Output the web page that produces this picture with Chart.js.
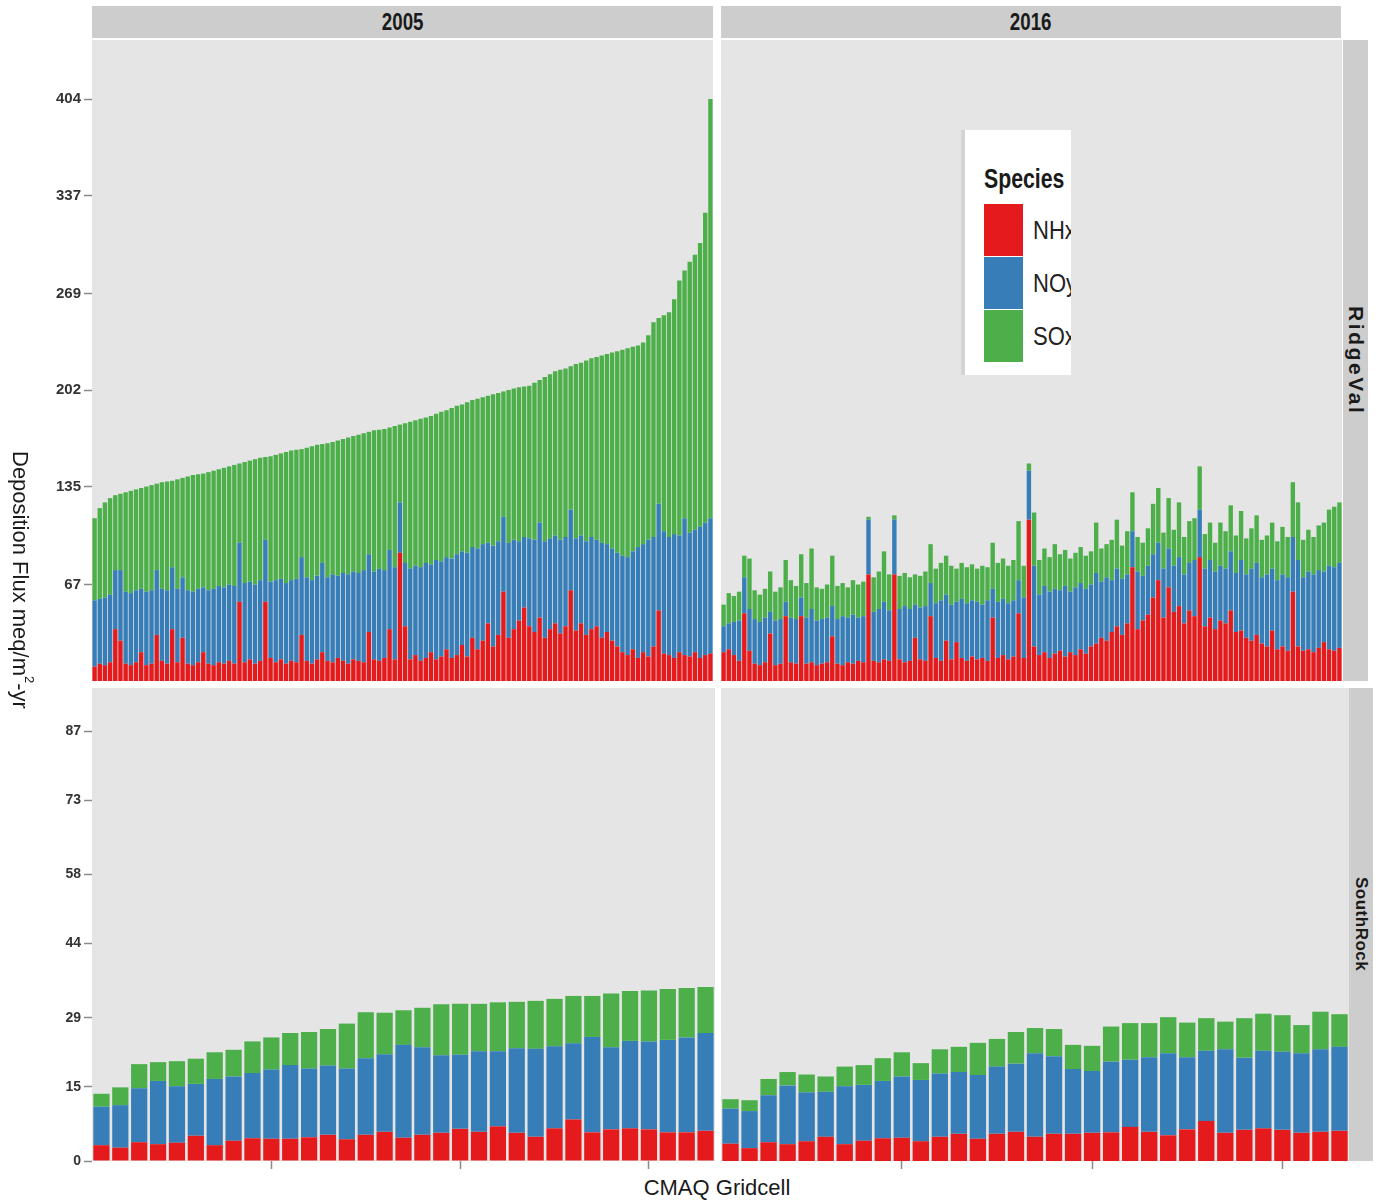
<!DOCTYPE html>
<html>
<head>
<meta charset="utf-8">
<script src="https://cdn.jsdelivr.net/npm/chart.js@4.4.1/dist/chart.umd.min.js"></script>
<style>
  body { margin: 0; background: #fff; width: 1379px; height: 1203px; position: relative; overflow: hidden;
         font-family: 'Liberation Sans', Arial, sans-serif; color: #1a1a1a; }
  canvas { position: absolute; }
  .strip { position: absolute; background: #cdcdcd; display: flex; align-items: center; justify-content: center; }
  .strip.top span { font-weight: bold; font-size: 24px; display: inline-block; transform: scaleX(0.78); }
  .vert { writing-mode: vertical-rl; white-space: nowrap; }
  .side span { font-weight: bold; }
  #ytitle { position: absolute; left: 7px; top: 380px; width: 30px; height: 400px; display: flex;
            align-items: center; justify-content: center; font-size: 22px; }
  #ytitle sup { font-size: 13px; }
  #xtitle { position: absolute; left: 567px; top: 1175px; width: 300px; text-align: center; font-size: 22px; }
  #legend { position: absolute; left: 961px; top: 130px; width: 106px; height: 245px; background: #fff;
            border-left: 4px solid #d4d4d4; overflow: hidden; }
  #legend .title { position: absolute; left: 19px; top: 33px; font-weight: bold; font-size: 28px;
                   transform: scaleX(0.76); transform-origin: left center; white-space: nowrap; }
  #legend .key { position: absolute; left: 19px; width: 39px; height: 52px; }
  #legend .lab { position: absolute; left: 68px; height: 52px; line-height: 52px; font-size: 25px;
                 white-space: nowrap; color: #222; transform: scaleX(0.88); transform-origin: left center; }
</style>
</head>
<body>
<canvas id="tl" width="713" height="641" style="left:0;top:40px"></canvas>
<canvas id="tr" width="621" height="641" style="left:721px;top:40px"></canvas>
<canvas id="bl" width="715" height="485" style="left:0;top:688px"></canvas>
<canvas id="br" width="628" height="485" style="left:721px;top:688px"></canvas>

<div class="strip top" style="left:92px;top:6px;width:621px;height:32px"><span>2005</span></div>
<div class="strip top" style="left:721px;top:6px;width:620px;height:32px"><span>2016</span></div>
<div class="strip side" style="left:1343px;top:40px;width:25px;height:641px">
  <span class="vert" style="font-size:21px;letter-spacing:2.6px">RidgeVal</span></div>
<div class="strip side" style="left:1349px;top:688px;width:24px;height:473px">
  <span class="vert" style="font-size:17px;letter-spacing:0.5px">SouthRock</span></div>

<div id="ytitle"><span class="vert">Deposition Flux meq/m<sup>2</sup>-yr</span></div>
<div id="xtitle">CMAQ Gridcell</div>

<div id="legend">
  <div class="title">Species</div>
  <div class="key" style="top:74px;background:#e41a1c"></div>
  <div class="key" style="top:127px;background:#377eb8"></div>
  <div class="key" style="top:180px;background:#4daf4a"></div>
  <div class="lab" style="top:74px">NHx</div>
  <div class="lab" style="top:127px">NOy</div>
  <div class="lab" style="top:180px">SOx</div>
</div>

<script>
// RidgeVal gridcells (same order in both years)
const nhxRidge2005 = [10,12,11,13,36,28,12,11,13,20, 11,12,32,14,12,36,13,30,12,11,
  13,20,12,11,13,12,14,12,55,13, 15,12,14,55,16,13,15,12,14,13,
  32,14,12,15,20,14,13,16,14,12, 15,14,13,34,15,14,16,36,15,89,
  38,15,18,14,16,20,15,17,22,16, 18,25,17,30,22,28,40,24,32,62,
  30,36,42,51,38,34,44,30,36,40, 33,38,63,35,40,32,36,38,30,34,
  28,24,20,18,22,16,20,17,24,49, 19,18,16,20,18,17,20,16,18,19];
const noyRidge2005 = [46,45,47,47,41,49,50,50,50,44, 51,51,45,50,51,43,51,42,51,51,
  51,45,51,53,53,53,53,54,41,55, 54,55,56,43,53,57,56,56,56,58,
  54,58,58,58,62,58,61,57,61,62, 61,61,64,54,61,64,61,55,64,35,
  44,63,62,65,66,61,69,66,64,69, 70,65,72,63,70,67,56,70,65,52,
  66,62,55,49,61,64,66,67,63,61, 65,62,56,64,61,65,64,60,66,61,
  64,65,67,68,68,77,75,81,76,74, 85,82,86,81,95,86,85,91,92,94];
const soxRidge2005 = [57,63,66,67,52,53,69,71,70,70, 73,73,60,74,75.5,60,76,69,79,81,
  79.5,79,82,82,81,83,82,84,55,84, 84,87,85,57.5,87,87,87,91,90,89.5,
  75,90,93,91,82.5,93,92,94,93,95, 94,96,95,85,98,96.5,98,85,98,54,
  97,102,101,103,101,103,101.5,104,102,104.5, 103,102,104.5,102,104,102,102,105,103,87,
  106,105,107,104.5,106,109,99,114,114,114, 118,117,99.5,121,120,125.5,124,127,130,132,
  136,140,143,145,142,140,140,142,149,129, 150,156,163,177,172,188,191,197,215,291];

const nhxRidge2016 = [20,22,18,14,47,21,12,11,13,33, 11,12,45,13,12,45,12,13,11,12,
  13,31,12,11,13,12,14,13,74,14, 13,15,14,74,15,13,14,30,15,14,
  45,16,14,28,15,27,16,14,17,15, 16,14,44,16,18,15,17,47,16,112,
  24,18,20,16,19,21,17,20,18,22, 19,24,26,30,28,34,38,32,40,79,
  36,42,46,58,70,44,65,48,52,40, 49,45,86,38,44,36,42,40,49,34,
  35,30,28,32,26,24,35,22,24,21, 62,24,21,22,20,23,27,22,21,23];
const noyRidge2016 = [18,18,23,28,25,29,31,30,31,15, 31,31,10,31,31,13,32,37,31,31,
  31,21,31,34,31,34,30,32,38,34, 37,40,35,38,35,39,36,23,36,38,
  23,38,42,32,38,28,41,40,39,40, 37,42,20,39,39,39,39,23,42,34,
  56,42,46,46,45,42,49,42,47,46, 45,43,49,39,44,36,40,39,34,25,
  40,31,34,30,26,34,27,32,34,34, 33,39,33,40,40,40,38,38,41,41,
  49,44,50,50,46,50,43,48,50,51, 38,60,51,54,54,54,49,58,58,59];
const soxRidge2016 = [15,21,18,20,15,35,20,19,20,28, 20,22,29,26,23,30,24,42,23,21,
  23,35,23,23,21,24,23,24,2,24, 26,35,25,3,23,23,22,21,22,24,
  27,24,26,27,27,23,25,25,25,23, 27,23,32,27,28,26,28,41,22,5,
  37,24,26,24,31,25,25,23,24,25, 23,23,35,23,23,28,34,23,30,27,
  24,23,26,35,38,25,35,25,38,26, 29,29,30,24,26,20,30,26,32,26,
  34,25,28,33,26,27,32,27,33,28, 38,40,26,29,26,31,34,39,42,42];

// SouthRock gridcells
const nhxSouth2005 = [3.2,2.7,3.8,3.4,3.7,5.1,3.2,4.1,4.6,4.5,4.5,4.8,5.3,4.4,5.3,5.9,4.7,
  5.3,5.7,6.5,5.9,7.0,5.7,4.9,6.6,8.4,5.8,6.4,6.6,6.4,5.8,5.8,6.1];
const noySouth2005 = [7.8,8.6,10.9,12.8,11.4,10.5,13.4,13.0,13.2,14.0,14.9,13.9,14.0,14.3,15.5,15.7,18.8,
  17.7,15.7,15.0,16.3,15.2,17.1,17.8,16.6,15.4,19.3,16.6,17.7,17.8,18.7,19.2,19.8];
const soxSouth2005 = [2.6,3.6,4.9,3.8,5.1,5.1,5.4,5.4,6.4,6.5,6.5,7.4,7.4,9.1,9.3,8.4,7.0,
  8.0,10.3,10.3,9.6,9.9,9.4,9.7,9.6,9.6,8.3,10.9,10.1,10.3,10.3,10.0,9.3];

const nhxSouth2016 = [3.5,2.6,3.8,3.4,4.0,4.9,3.4,4.1,4.6,4.7,4.0,4.9,5.5,4.5,5.5,5.9,4.9,
  5.5,5.5,5.7,5.8,6.9,5.9,5.2,6.4,8.1,5.7,6.3,6.6,6.3,5.7,5.9,6.1];
const noySouth2016 = [7.1,7.5,9.5,11.9,9.9,9.1,11.7,11.3,11.6,12.4,12.4,12.8,12.5,12.9,13.6,13.8,16.9,
  15.7,13.1,12.5,14.3,13.6,15.1,16.6,14.6,14.2,16.9,14.6,15.7,15.8,16.1,16.7,17.0];
const soxSouth2016 = [1.9,2.2,3.3,2.7,3.6,3.1,4.0,4.0,4.6,4.9,3.4,4.9,5.1,6.5,5.6,6.4,5.1,
  5.5,4.9,5.1,7.1,7.4,6.9,7.3,7.0,6.6,5.6,8.0,7.5,7.4,5.7,7.6,6.6];

// axis ticks
const ridgeTicks = [67, 135, 202, 269, 337, 404];
const southTicks = [0, 15, 29, 44, 58, 73, 87];
const ridgeMax = 445;
const southMax = 95.7;
const southTickCells = [10, 20, 30];

const ridgeCells = nhxRidge2005.map((v, i) => i + 1);
const southCells = nhxSouth2005.map((v, i) => i + 1);

const panelBg = {
  id: 'panelBg',
  beforeDraw(chart) {
    const { ctx, chartArea: a } = chart;
    ctx.save();
    ctx.fillStyle = '#e5e5e5';
    ctx.fillRect(a.left, a.top, a.right - a.left, a.bottom - a.top);
    ctx.restore();
  }
};

function makePanel(id, cells, nhx, noy, sox, yMax, yTicks, showY, showX, barPct, tickSize) {
  return new Chart(document.getElementById(id), {
    type: 'bar',
    data: {
      labels: cells,
      datasets: [
        { label: 'NHx', data: nhx, backgroundColor: '#e41a1c' },
        { label: 'NOy', data: noy, backgroundColor: '#377eb8' },
        { label: 'SOx', data: sox, backgroundColor: '#4daf4a' }
      ]
    },
    options: {
      responsive: false,
      animation: false,
      layout: { padding: 0 },
      datasets: { bar: { barPercentage: barPct, categoryPercentage: 1 } },
      plugins: { legend: { display: false }, tooltip: { enabled: false } },
      scales: {
        x: {
          stacked: true,
          display: showX,
          border: { display: false },
          grid: {
            offset: false, drawOnChartArea: false, tickLength: 8, tickWidth: 1.5,
            tickColor: ctx => southTickCells.includes(cells[ctx.index]) ? '#8a8a8a' : 'rgba(0,0,0,0)'
          },
          ticks: { display: false, autoSkip: false },
          afterFit: s => {
            s.height = showX ? 12 : 0;
            s.paddingLeft = 0;
            s.paddingRight = 0;
          }
        },
        y: {
          stacked: true,
          display: showY,
          min: 0,
          max: yMax,
          border: { display: false },
          grid: { drawOnChartArea: false, tickLength: 8, tickWidth: 1.5, tickColor: '#8a8a8a' },
          ticks: { color: '#333', padding: 3, font: { family: 'Liberation Sans', weight: 'bold', size: tickSize } },
          afterBuildTicks: s => { s.ticks = yTicks.map(v => ({ value: v })); },
          afterFit: s => {
            s.width = showY ? 92 : 0;
            s.paddingTop = 0;
            s.paddingBottom = 0;
          }
        }
      }
    },
    plugins: [panelBg]
  });
}

makePanel('tl', ridgeCells, nhxRidge2005, noyRidge2005, soxRidge2005, ridgeMax, ridgeTicks, true, false, 0.85, 15);
makePanel('tr', ridgeCells, nhxRidge2016, noyRidge2016, soxRidge2016, ridgeMax, ridgeTicks, false, false, 0.85, 15);
makePanel('bl', southCells, nhxSouth2005, noySouth2005, soxSouth2005, southMax, southTicks, true, true, 0.86, 14);
makePanel('br', southCells, nhxSouth2016, noySouth2016, soxSouth2016, southMax, southTicks, false, true, 0.86, 14);
</script>
</body>
</html>
